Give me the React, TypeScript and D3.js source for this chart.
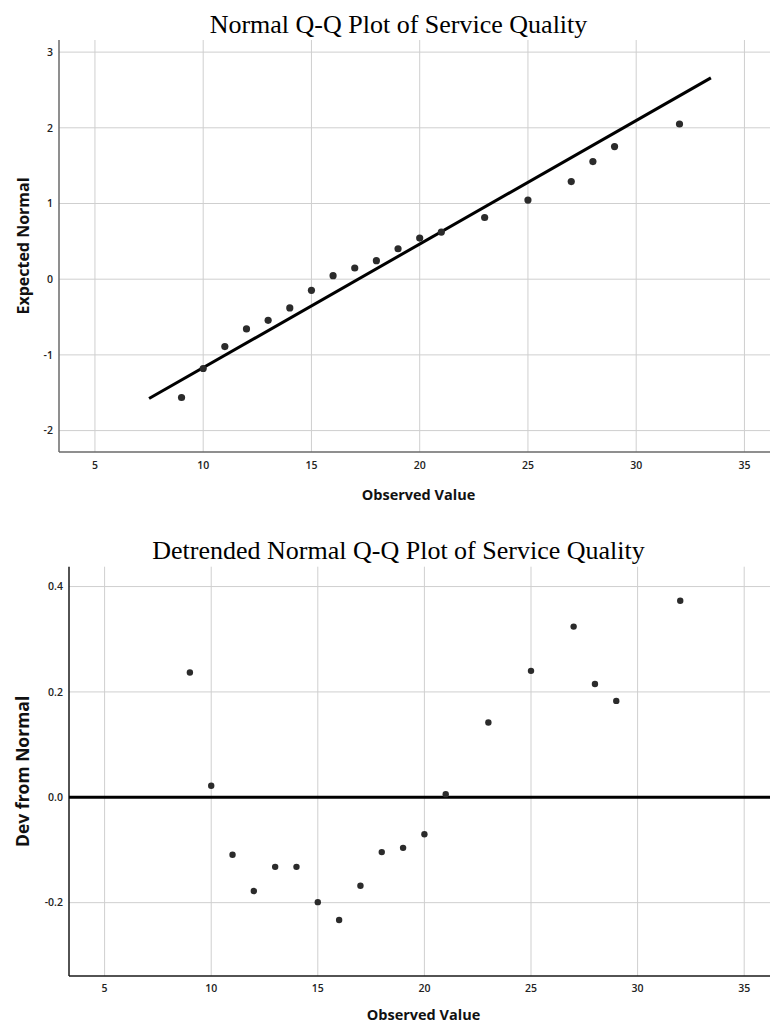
import React from "react";
import * as d3 from "d3";

// ---- Data ----
const observed = [9, 10, 11, 12, 13, 14, 15, 16, 17, 18, 19, 20, 21, 23, 25, 27, 28, 29, 32];
const expectedNormal = [-1.563, -1.18, -0.89, -0.657, -0.543, -0.38, -0.147, 0.046, 0.148, 0.244, 0.402, 0.543, 0.623, 0.815, 1.045, 1.29, 1.554, 1.752, 2.05];
const devFromNormal = [0.237, 0.022, -0.109, -0.178, -0.132, -0.132, -0.199, -0.233, -0.168, -0.104, -0.096, -0.07, 0.006, 0.142, 0.24, 0.324, 0.215, 0.183, 0.373];
const refLineX = [7.5, 33.45];
const refLineY = [-1.577, 2.66];
const xTicks = [5, 10, 15, 20, 25, 30, 35];
const yTicksTop = [-2, -1, 0, 1, 2, 3];
const yTicksBottom = [-0.2, 0.0, 0.2, 0.4];

const W = 772;
const H = 1024;
const tickFont = "'Open Sans', sans-serif";
const titleFont = "'Liberation Serif', 'Times New Roman', serif";

type PanelProps = {
  title: string;
  titleY: number;
  yLabel: string;
  yLabelSize: number;
  left: number;
  right: number;
  top: number;
  bottom: number;
  xDomain: [number, number];
  yDomain: [number, number];
  yTicks: number[];
  yFormat: (v: number) => string;
  ys: number[];
  axisColor: string;
  dotR: number;
  children?: (x: d3.ScaleLinear<number, number>, y: d3.ScaleLinear<number, number>) => React.ReactNode;
  xLabelY: number;
  xTickY: number;
};

function Panel(p: PanelProps) {
  const x = d3.scaleLinear().domain(p.xDomain).range([p.left, p.right]);
  const y = d3.scaleLinear().domain(p.yDomain).range([p.bottom, p.top]);
  const cx = (p.left + p.right) / 2;
  const cy = (p.top + p.bottom) / 2;
  return (
    <g>
      <text x={398.5} y={p.titleY} textAnchor="middle" fontFamily={titleFont} fontSize={26} fill="#000">
        {p.title}
      </text>
      {/* grid */}
      {xTicks.map((t) => (
        <line key={"gx" + t} x1={x(t)} x2={x(t)} y1={p.top} y2={p.bottom} stroke="#cfcfcf" strokeWidth={1} />
      ))}
      {p.yTicks.map((t) => (
        <line key={"gy" + t} x1={p.left} x2={p.right} y1={y(t)} y2={y(t)} stroke="#cfcfcf" strokeWidth={1} />
      ))}
      {/* axes */}
      <line x1={p.left} x2={p.left} y1={p.top} y2={p.bottom} stroke={p.axisColor} strokeWidth={1.5} />
      <line x1={p.left} x2={p.right} y1={p.bottom} y2={p.bottom} stroke={p.axisColor} strokeWidth={1.5} />
      {/* tick labels */}
      {xTicks.map((t) => (
        <text key={"tx" + t} x={x(t)} y={p.xTickY} textAnchor="middle" fontFamily={tickFont} fontSize={10.5} fontWeight={600} fill="#222">
          {t}
        </text>
      ))}
      {p.yTicks.map((t) => (
        <text key={"ty" + t} x={p.left - 6} y={y(t) + 3.8} textAnchor="end" fontFamily={tickFont} fontSize={10.5} fontWeight={600} fill="#222">
          {p.yFormat(t)}
        </text>
      ))}
      {/* axis titles */}
      <text x={cx + 4} y={p.xLabelY} textAnchor="middle" fontFamily={tickFont} fontSize={14.5} fontWeight={700} fill="#111">
        Observed Value
      </text>
      <text
        transform={`translate(29,${cy}) rotate(-90)`}
        textAnchor="middle"
        fontFamily={tickFont}
        fontSize={p.yLabelSize}
        fontWeight={700}
        fill="#111"
      >
        {p.yLabel}
      </text>
      {p.children && p.children(x, y)}
      {observed.map((o, i) => (
        <circle key={"pt" + i} cx={x(o)} cy={y(p.ys[i])} r={p.dotR} fill="#2b2b2b" />
      ))}
    </g>
  );
}

export default function App() {
  return (
    <svg width={W} height={H} style={{ position: "absolute", left: 0, top: 0, background: "#fff" }}>
      <rect x={0} y={0} width={W} height={H} fill="#fff" />
      <Panel
        title="Normal Q-Q Plot of Service Quality"
        titleY={33}
        yLabel="Expected Normal"
        yLabelSize={16}
        left={59}
        right={770}
        top={40}
        bottom={452}
        xDomain={[3.34, 36.18]}
        yDomain={[-2.283, 3.16]}
        yTicks={yTicksTop}
        yFormat={(v) => v.toFixed(0)}
        ys={expectedNormal}
        axisColor="#6a6a6a"
        dotR={3.6}
        xTickY={469}
        xLabelY={500}
      >
        {(x, y) => (
          <line
            x1={x(refLineX[0])}
            y1={y(refLineY[0])}
            x2={x(refLineX[1])}
            y2={y(refLineY[1])}
            stroke="#000"
            strokeWidth={3}
          />
        )}
      </Panel>
      <Panel
        title="Detrended Normal Q-Q Plot of Service Quality"
        titleY={559}
        yLabel="Dev from Normal"
        yLabelSize={17.5}
        left={69}
        right={770}
        top={566.7}
        bottom={976}
        xDomain={[3.33, 36.21]}
        yDomain={[-0.3392, 0.4377]}
        yTicks={yTicksBottom}
        yFormat={(v) => v.toFixed(1)}
        ys={devFromNormal}
        axisColor="#1a1a1a"
        dotR={3.2}
        xTickY={992}
        xLabelY={1020}
      >
        {(x, y) => (
          <line x1={x(3.33)} y1={y(0)} x2={x(36.21)} y2={y(0)} stroke="#000" strokeWidth={3} />
        )}
      </Panel>
    </svg>
  );
}
